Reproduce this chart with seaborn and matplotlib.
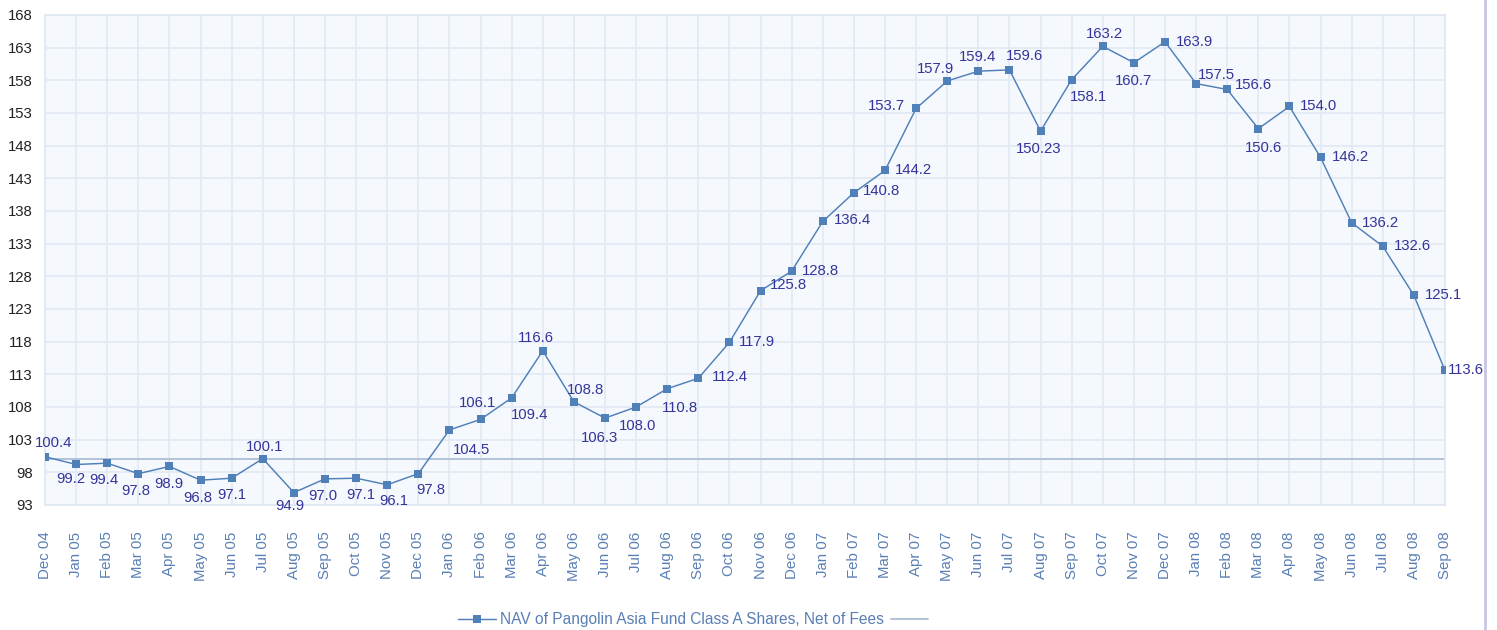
import pandas as pd
import seaborn as sns
import matplotlib.pyplot as plt
from matplotlib.lines import Line2D

months = ["Dec 04", "Jan 05", "Feb 05", "Mar 05", "Apr 05", "May 05", "Jun 05", "Jul 05",
          "Aug 05", "Sep 05", "Oct 05", "Nov 05", "Dec 05", "Jan 06", "Feb 06", "Mar 06",
          "Apr 06", "May 06", "Jun 06", "Jul 06", "Aug 06", "Sep 06", "Oct 06", "Nov 06",
          "Dec 06", "Jan 07", "Feb 07", "Mar 07", "Apr 07", "May 07", "Jun 07", "Jul 07",
          "Aug 07", "Sep 07", "Oct 07", "Nov 07", "Dec 07", "Jan 08", "Feb 08", "Mar 08",
          "Apr 08", "May 08", "Jun 08", "Jul 08", "Aug 08", "Sep 08"]
nav = [100.4, 99.2, 99.4, 97.8, 98.9, 96.8, 97.1, 100.1, 94.9, 97.0, 97.1, 96.1, 97.8,
       104.5, 106.1, 109.4, 116.6, 108.8, 106.3, 108.0, 110.8, 112.4, 117.9, 125.8, 128.8,
       136.4, 140.8, 144.2, 153.7, 157.9, 159.4, 159.6, 150.23, 158.1, 163.2, 160.7, 163.9,
       157.5, 156.6, 150.6, 154.0, 146.2, 136.2, 132.6, 125.1, 113.6]
baseline = 100
series_name = "NAV of Pangolin Asia Fund Class A Shares, Net of Fees"
y_ticks = list(range(93, 169, 5))

# where each value label sits: a=above, b=below, r=right, l=left, with pixel nudges
label_pos = [("a", 9, 10), ("b", -5, 8), ("b", -3, 10), ("b", -3, 10), ("b", -1, 11),
             ("b", -3, 11), ("b", 0, 10), ("a", 2, 8), ("b", -4, 6), ("b", -2, 10),
             ("b", 5, 10), ("b", 7, 9), ("b", 12, 9), ("b", 22, 13), ("a", -3, 12),
             ("b", 18, 10), ("a", -7, 9), ("a", 12, 8), ("b", -6, 13), ("b", 1, 12),
             ("b", 13, 12), ("r", 14, -1), ("r", 9, 0), ("r", 9, -6), ("r", 10, 0),
             ("r", 11, -1), ("r", 9, -2), ("r", 10, 0), ("l", -11, 2), ("a", -12, 8),
             ("a", -1, 10), ("a", 15, 10), ("b", -2, 11), ("b", 17, 10), ("a", 2, 8),
             ("b", 0, 11), ("r", 11, 0), ("a", 20, 5), ("r", 8, -4), ("b", 5, 12),
             ("r", 10, 0), ("r", 11, 0), ("r", 10, 0), ("r", 11, 0), ("r", 11, 0),
             ("r", 3, 0)]

df = pd.DataFrame({"month": months, "nav": nav})

sns.set_style("white")
plt.rcParams["font.family"] = ["Liberation Sans", "DejaVu Sans"]

fig = plt.figure(figsize=(14.97, 6.3), dpi=100)
ax = fig.add_axes([45 / 1497, 1 - 505 / 630, 1400 / 1497, 490 / 630])
ax.set_facecolor("#f5f8fd")

line_col = "#4f80b8"
ax.axhline(baseline, color="#b3c2d8", lw=1.4, zorder=2, label=" ")
sns.lineplot(data=df, x="month", y="nav", ax=ax, color=line_col, lw=1.05,
             marker="s", markersize=5.5, markeredgewidth=0, sort=False,
             label=series_name, zorder=3)

for i, v in enumerate(nav):
    kind, dx, dy = label_pos[i]
    if kind == "a":
        ha, va, off = "center", "bottom", (dx, dy - 3)
    elif kind == "b":
        ha, va, off = "center", "top", (dx, -dy)
    elif kind == "r":
        ha, va, off = "left", "center", (dx, -dy)
    else:
        ha, va, off = "right", "center", (dx, dy)
    ax.annotate(str(v), (i, v), xytext=off, textcoords="offset pixels",
                ha=ha, va=va, fontsize=10.7, color="#34349a", zorder=4,
                annotation_clip=False)

ax.set_xlim(0, len(months) - 1)
ax.set_ylim(93, 168)
ax.set_yticks(y_ticks)
ax.set_xticks(range(len(months)))
ax.set_xticklabels(months, rotation=90)
ax.tick_params(axis="x", length=0, pad=19, labelsize=10.8, labelcolor="#5a7fb5")
ax.tick_params(axis="y", length=0, pad=9, labelsize=10.7, labelcolor="#222222")
ax.grid(True, color="#e1e9f3", lw=1.2)
ax.set_axisbelow(True)
for s in ax.spines.values():
    s.set_color("#dfe7f2")
    s.set_linewidth(1.2)
ax.set_xlabel("")
ax.set_ylabel("")

handles, labels = ax.get_legend_handles_labels()
ax.get_legend().remove()
order = [labels.index(series_name), labels.index(" ")]
leg = fig.legend([handles[k] for k in order], [labels[k] for k in order],
                 loc="center", bbox_to_anchor=(0.466, 0.016), ncol=2, frameon=False,
                 fontsize=11.2, handlelength=2.4, handletextpad=0.3, columnspacing=0.4)
for t in leg.get_texts():
    t.set_color("#5a7fb5")

fig.add_artist(Line2D([1485 / 1497, 1485 / 1497], [0, 1], color="#c6c6e2", lw=2))

plt.savefig("out.png", dpi=100)
